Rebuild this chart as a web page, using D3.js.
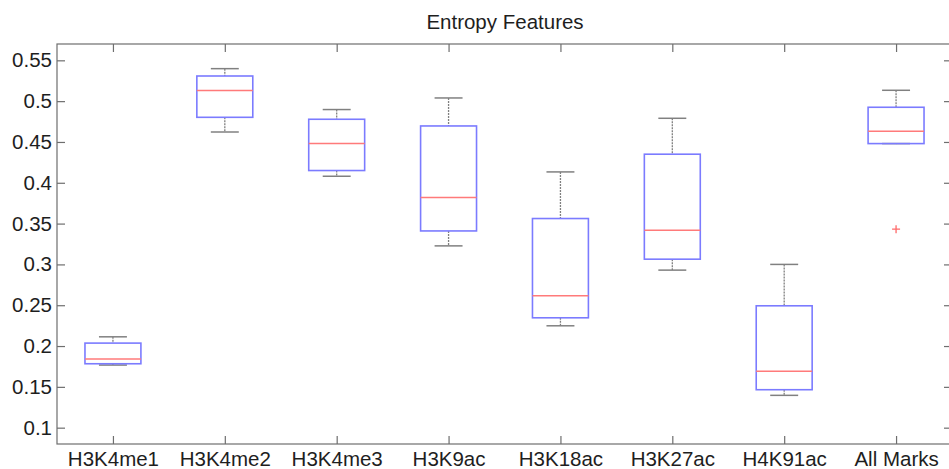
<!DOCTYPE html>
<html><head><meta charset="utf-8">
<script src="https://cdn.jsdelivr.net/npm/d3@7"></script>
<style>body{margin:0;background:#fff}svg{display:block}</style>
</head><body>
<script>
const categories = ["H3K4me1","H3K4me2","H3K4me3","H3K9ac","H3K18ac","H3K27ac","H4K91ac","All Marks"];
const whiskerHigh = [0.2113,0.5398,0.4897,0.5039,0.4133,0.4790,0.3000,0.5133];
const q3          = [0.2036,0.5308,0.4778,0.4696,0.3562,0.4350,0.2493,0.4925];
const medians     = [0.1840,0.5129,0.4480,0.3820,0.2615,0.3419,0.1690,0.4631];
const q1          = [0.1783,0.4802,0.4150,0.3410,0.2346,0.3064,0.1465,0.4480];
const whiskerLow  = [0.1767,0.4622,0.4080,0.3227,0.2248,0.2930,0.1396,0.4480];
const outliers    = [{cat:"All Marks", value:0.3431}];
const yTicks = [0.1,0.15,0.2,0.25,0.3,0.35,0.4,0.45,0.5,0.55];
const yTickLabels = ["0.1","0.15","0.2","0.25","0.3","0.35","0.4","0.45","0.5","0.55"];
const title = "Entropy Features";

const W = 949, H = 469;
const mLeft = 57, mRight = 952, mTop = 44, mBottom = 444;
const svg = d3.select("body").append("svg").attr("width", W).attr("height", H);
const font = "Liberation Sans, Arial, Helvetica, sans-serif";
const fs = 20.5;

const x = d3.scaleLinear().domain([0.5, categories.length + 0.5]).range([mLeft, mRight]);
const y = d3.scaleLinear().domain([0.08, 0.57]).range([mBottom, mTop]);
const axisColor = "#6e6e6e";

svg.append("rect").attr("x", mLeft).attr("y", mTop).attr("width", mRight - mLeft).attr("height", mBottom - mTop)
  .attr("fill", "none").attr("stroke", axisColor).attr("stroke-width", 1.2);

const yAxisL = d3.axisLeft(y).tickValues(yTicks).tickFormat((d,i)=>yTickLabels[i]).tickSizeInner(-8).tickSizeOuter(0).tickPadding(5);
const gL = svg.append("g").attr("transform", `translate(${mLeft},0)`).call(yAxisL);
gL.select(".domain").remove();
gL.selectAll("line").attr("stroke", axisColor).attr("stroke-width", 1.2);
gL.selectAll("text").attr("font-family", font).attr("font-size", fs).attr("fill", "#1e1e1e");

const yAxisR = d3.axisRight(y).tickValues(yTicks).tickFormat("").tickSizeInner(-8).tickSizeOuter(0);
const gR = svg.append("g").attr("transform", `translate(${mRight},0)`).call(yAxisR);
gR.select(".domain").remove();
gR.selectAll("line").attr("stroke", axisColor).attr("stroke-width", 1.2);

const xt = categories.map((c,i)=>i+1);
const xAxisB = d3.axisBottom(x).tickValues(xt).tickFormat((d)=>categories[d-1]).tickSizeInner(-8).tickSizeOuter(0).tickPadding(7.5);
const gB = svg.append("g").attr("transform", `translate(0,${mBottom})`).call(xAxisB);
gB.select(".domain").remove();
gB.selectAll("line").attr("stroke", axisColor).attr("stroke-width", 1.2);
gB.selectAll("text").attr("font-family", font).attr("font-size", fs).attr("fill", "#1e1e1e");

const xAxisT = d3.axisTop(x).tickValues(xt).tickFormat("").tickSizeInner(-8).tickSizeOuter(0);
const gT = svg.append("g").attr("transform", `translate(0,${mTop})`).call(xAxisT);
gT.select(".domain").remove();
gT.selectAll("line").attr("stroke", axisColor).attr("stroke-width", 1.2);

svg.append("text").attr("x", 505).attr("y", 28.5).attr("text-anchor", "middle")
  .attr("font-family", font).attr("font-size", fs).attr("fill", "#1e1e1e").text(title);

const boxW = 0.25, capW = 0.125;
const data = categories.map((c,i)=>({c, i:i+1, hi:whiskerHigh[i], q3:q3[i], med:medians[i], q1:q1[i], lo:whiskerLow[i]}));
const g = svg.append("g");
const whiskColor = "#808080";
data.forEach(d => {
  g.append("line").attr("x1", x(d.i)).attr("x2", x(d.i)).attr("y1", y(d.hi)).attr("y2", y(d.q3))
    .attr("stroke", whiskColor).attr("stroke-width", 1.3).attr("stroke-dasharray", "2,1");
  g.append("line").attr("x1", x(d.i)).attr("x2", x(d.i)).attr("y1", y(d.q1)).attr("y2", y(d.lo))
    .attr("stroke", whiskColor).attr("stroke-width", 1.3).attr("stroke-dasharray", "2,1");
  g.append("line").attr("x1", x(d.i - capW)).attr("x2", x(d.i + capW)).attr("y1", y(d.hi)).attr("y2", y(d.hi))
    .attr("stroke", whiskColor).attr("stroke-width", 1.5);
  g.append("line").attr("x1", x(d.i - capW)).attr("x2", x(d.i + capW)).attr("y1", y(d.lo)).attr("y2", y(d.lo))
    .attr("stroke", whiskColor).attr("stroke-width", 1.5);
  g.append("rect").attr("x", x(d.i - boxW)).attr("width", x(d.i + boxW) - x(d.i - boxW))
    .attr("y", y(d.q3)).attr("height", y(d.q1) - y(d.q3))
    .attr("fill", "none").attr("stroke", "#7b7bff").attr("stroke-width", 1.6);
  g.append("line").attr("x1", x(d.i - boxW)).attr("x2", x(d.i + boxW)).attr("y1", y(d.med)).attr("y2", y(d.med))
    .attr("stroke", "#ff7a7a").attr("stroke-width", 1.5);
});
outliers.forEach(o => {
  const cx = x(categories.indexOf(o.cat) + 1), cy = y(o.value);
  g.append("path").attr("d", `M${cx-4},${cy}H${cx+4}M${cx},${cy-4}V${cy+4}`)
    .attr("stroke", "#ff6a6a").attr("stroke-width", 1.3);
});
</script>
</body></html>
